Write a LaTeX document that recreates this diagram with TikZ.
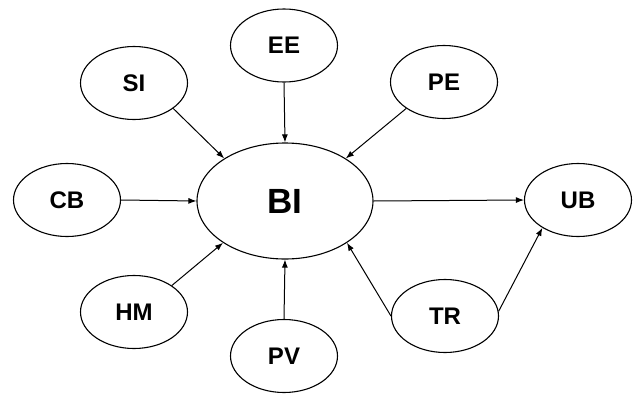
\documentclass[tikz,border=0pt]{standalone}
\usepackage{fontspec}
\setmainfont{Liberation Sans}
\usetikzlibrary{shapes.geometric,arrows.meta}
\begin{document}
\begin{tikzpicture}[x=1pt,y=-1pt,
  var/.style={ellipse,draw,line width=1.1pt,inner sep=0pt,minimum width=107pt,minimum height=73pt,font=\fontsize{24}{24}\selectfont\bfseries},
  big/.style={ellipse,draw,line width=1.1pt,inner sep=0pt,minimum width=176pt,minimum height=116pt,font=\fontsize{35}{35}\selectfont\bfseries},
  conn/.style={line width=1pt,-{Latex[length=8pt,width=6pt]}}]
\useasboundingbox (0,0) rectangle (635,394);
\node[big] (BI) at (285,201) {BI};
\node[var] (EE) at (284,45.5) {EE};
\node[var] (SI) at (134,83) {SI};
\node[var] (PE) at (444,82) {PE};
\node[var] (CB) at (67,200) {CB};
\node[var] (UB) at (578,200) {UB};
\node[var] (HM) at (134,312) {HM};
\node[var] (PV) at (284,356) {PV};
\node[var] (TR) at (445,316) {TR};
\draw[conn] (EE.-90) -- (BI.90);
\draw[conn] (SI.-33) -- (BI.145);
\draw[conn] (PE.-145) -- (BI.35);
\draw[conn] (CB.0) -- (BI.180);
\draw[conn] (HM.35) -- (BI.-146);
\draw[conn] (PV.90) -- (BI.-90);
\draw[conn] (BI.0) -- (UB.180);
\draw[conn] (TR.180) -- (BI.-34);
\draw[conn] (TR.5) -- (UB.-142);
\end{tikzpicture}
\end{document}
